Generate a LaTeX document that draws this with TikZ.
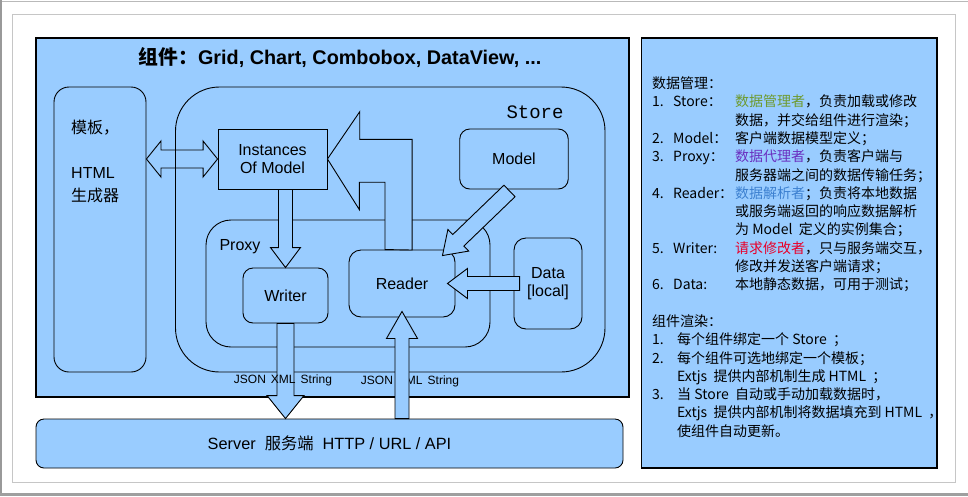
\documentclass[tikz,border=0pt]{standalone}
\usepackage{fontspec}
\setmainfont{Liberation Sans}
\newfontfamily\cjk{Noto Sans CJK SC}
\newfontfamily\monofnt{Liberation Mono}
\usetikzlibrary{calc}
\definecolor{pane}{HTML}{99CCFF}
\definecolor{ogreen}{HTML}{6E9A2E}
\definecolor{opurple}{HTML}{6A2FC0}
\definecolor{oblue}{HTML}{3C80D0}
\definecolor{ored}{HTML}{E8002A}
\tikzset{
  panel/.style={draw,fill=pane,line width=1.3pt},
  rbox/.style={draw,fill=pane,line width=0.9pt,rounded corners=10pt,align=center,inner sep=0pt},
  sbox/.style={draw,fill=pane,line width=0.9pt,align=center,inner sep=0pt},
  obox/.style={draw,line width=0.9pt,inner sep=0pt},
  barr/.style={draw,fill=pane,line width=0.9pt,line join=miter},
  lbl/.style={font=\fontsize{16}{18.5}\selectfont},
}
% block arrow: tail, tip, half shaft, half head, head length
\newcommand\barrow[5]{%
  \coordinate (hb) at ($(#2)!#5!(#1)$);
  \draw[barr] ($(#1)!#3!90:(#2)$) -- ($(hb)!#3!-90:(#1)$) -- ($(hb)!#4!-90:(#1)$)
    -- (#2) -- ($(hb)!#4!90:(#1)$) -- ($(hb)!#3!90:(#1)$) -- ($(#1)!#3!-90:(#2)$) -- cycle;}
% two-headed block arrow
\newcommand\dbarrow[5]{%
  \coordinate (ha) at ($(#1)!#5!(#2)$);
  \coordinate (hb) at ($(#2)!#5!(#1)$);
  \draw[barr] (#1) -- ($(ha)!#4!90:(#2)$) -- ($(ha)!#3!90:(#2)$) -- ($(hb)!#3!-90:(#1)$)
    -- ($(hb)!#4!-90:(#1)$) -- (#2) -- ($(hb)!#4!90:(#1)$) -- ($(hb)!#3!90:(#1)$)
    -- ($(ha)!#3!-90:(#2)$) -- ($(ha)!#4!-90:(#2)$) -- cycle;}

\begin{document}
\begin{tikzpicture}[x=1pt,y=-1pt]
  \useasboundingbox[fill=white] (0,0) rectangle (968,496);
  % frame
  \draw[gray!55,line width=1pt] (0,1.5) -- (968,1.5);
  \draw[gray!80,line width=1.5pt] (1,0) -- (1,496);
  \fill[gray!75] (0,493) rectangle (968,496);
  \draw[gray!45,line width=1pt] (12.5,14.5) rectangle (955,482);
  % panels
  \draw[panel] (36,38) rectangle (629,397);
  \draw[panel] (641.5,38) rectangle (937,468);
  \node[rbox,rounded corners=8pt,minimum width=587,minimum height=49] (srv) at (329.5,443.5) {};
  \node[font=\fontsize{16.3}{18.5}\selectfont] at (srv)
    {Server\hspace{9pt}{\cjk 服务端}\hspace{9pt}HTTP / URL / API};
  \node[font=\fontsize{19.8}{22}\selectfont\bfseries] (title) at (340,58)
    {{\cjk 组件：}Grid, Chart, Combobox, DataView, ...};

  % boxes
  \node[rbox,rounded corners=15pt,minimum width=92,minimum height=285] (tpl) at (100,229.5) {};
  \node[lbl,anchor=north west,align=left,inner sep=0pt,font=\fontsize{16}{22.5}\selectfont]
    at (71,120) {{\cjk 模板，}\\ \\HTML\\{\cjk 生成器}};
  \node[sbox,lbl,minimum width=109,minimum height=60] (inst) at (272.5,159) {Instances\\Of Model};
  \coordinate (t1) at (tpl.east |- inst.west);
  \dbarrow{t1}{inst.west}{9pt}{18pt}{14.5pt}
  \node[obox,rounded corners=44pt,minimum width=429.5,minimum height=285] (store) at (390.25,229.5) {};
  \node[font=\fontsize{19}{22}\selectfont\monofnt] at (535,112) {Store};
  \node[rbox,lbl,minimum width=108.5,minimum height=60] (mdl) at (514,159) {Model};
  \node[obox,rounded corners=25pt,minimum width=284,minimum height=127] (prx) at (348,283.5) {};
  \node[lbl] at (240,247) {Proxy};
  \node[rbox,lbl,minimum width=85,minimum height=55] (wr) at (285.5,295.5) {Writer};
  \node[rbox,lbl,rounded corners=12pt,minimum width=106,minimum height=67] (rd) at (402,283.5) {Reader};
  \node[rbox,lbl,rounded corners=12pt,minimum width=68,minimum height=91] (dat) at (548,283.5) {Data\\{[local]}};

  % arrows
  \draw[barr] ($(rd.north)+(-17,0)$) -- ++(0,-67.3) -- ++(-25.7,0) -- ++(0,27.3)
    -- (inst.east) -- ++(32.3,-47.3) -- ++(0,27.6) -- ++(52.4,0) -- ++(0,110.7) -- cycle;
  \coordinate (w1) at (inst.south -| wr.north);
  \barrow{w1}{wr.north}{7pt}{15pt}{20pt}
  \coordinate (w2) at (wr.south |- srv.north);
  \barrow{wr.south}{w2}{8.5pt}{18.5pt}{23pt}
  \node[font=\fontsize{12}{14}\selectfont] (js2) at (410,381) {JSON\hspace{5pt}XML\hspace{5pt}String};
  \coordinate (r1) at (rd.south |- srv.north);
  \coordinate (r2) at ($(rd.south)+(0,-6)$);
  \barrow{r1}{r2}{7pt}{15.5pt}{27pt}
  \node[font=\fontsize{12}{14}\selectfont] (js1) at (283,380) {JSON\hspace{5pt}XML\hspace{5pt}String};
  \coordinate (d1) at ($(dat.west)+(6,0)$);
  \coordinate (d2) at ($(rd.east)+(-8,0)$);
  \barrow{d1}{d2}{7pt}{15pt}{20pt}
  \coordinate (m1) at ($(mdl.south)+(-4.5,1.5)$);
  \coordinate (m2) at ($(rd.north east)+(-13,6)$);
  \barrow{m1}{m2}{8pt}{15pt}{22pt}

  % notes
  \node[anchor=north west,inner sep=0pt,align=left,font=\cjk\fontsize{14}{18.3}\selectfont] (notes) at (652,75.5)
    {\begin{tabular}{@{}p{21pt}@{}p{62pt}@{}l@{}}
      \multicolumn{3}{@{}l@{}}{数据管理：}\\
      1. & Store： & \textcolor{ogreen}{数据管理者}，负责加载或修改\\
         &        & 数据，并交给组件进行渲染；\\
      2. & Model： & 客户端数据模型定义；\\
      3. & Proxy： & \textcolor{opurple}{数据代理者}，负责客户端与\\
         &        & 服务器端之间的数据传输任务；\\
      4. & Reader： & \textcolor{oblue}{数据解析者}；负责将本地数据\\
         &         & 或服务端返回的响应数据解析\\
         &         & 为 Model\ \ 定义的实例集合；\\
      5. & Writer: & \textcolor{ored}{请求修改者}，只与服务端交互，\\
         &         & 修改并发送客户端请求；\\
      6. & Data:   & 本地静态数据，可用于测试；\\
      \multicolumn{3}{@{}l@{}}{}\\
      \multicolumn{3}{@{}l@{}}{组件渲染：}\\
      \multicolumn{3}{@{}l@{}}{\makebox[25pt][l]{1.}每个组件绑定一个 Store\ \ ；}\\
      \multicolumn{3}{@{}l@{}}{\makebox[25pt][l]{2.}每个组件可选地绑定一个模板；}\\
      \multicolumn{3}{@{}l@{}}{\makebox[25pt][l]{}Extjs\ \ 提供内部机制生成 HTML\ \ ；}\\
      \multicolumn{3}{@{}l@{}}{\makebox[25pt][l]{3.}当 Store\ \ 自动或手动加载数据时，}\\
      \multicolumn{3}{@{}l@{}}{\makebox[25pt][l]{}Extjs\ \ 提供内部机制将数据填充到 HTML\ \ ，}\\
      \multicolumn{3}{@{}l@{}}{\makebox[25pt][l]{}使组件自动更新。}
    \end{tabular}};
\end{tikzpicture}
\end{document}
